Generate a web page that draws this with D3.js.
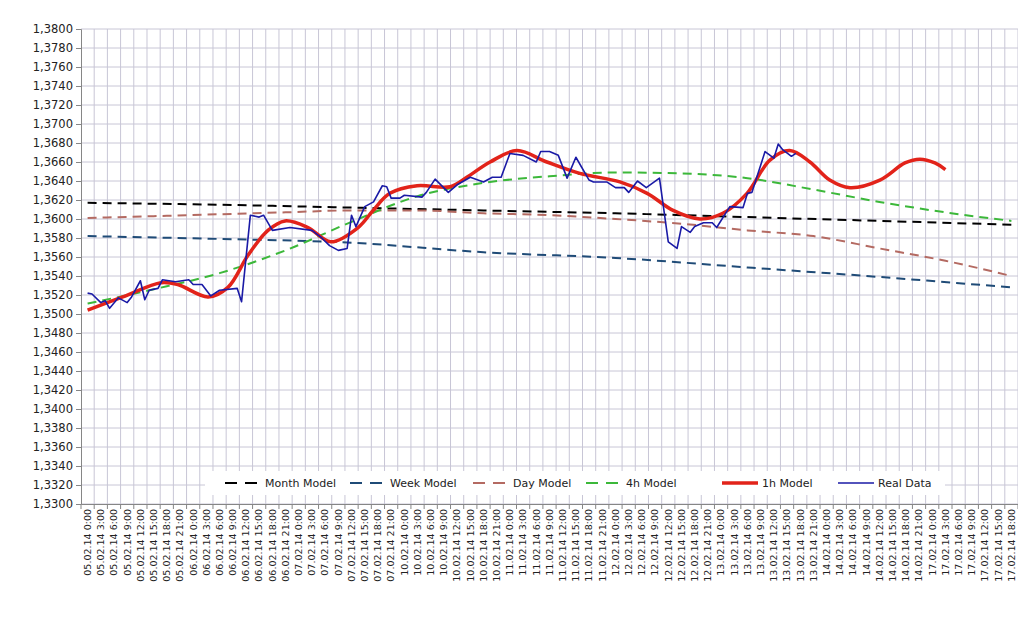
<!DOCTYPE html>
<html><head><meta charset="utf-8">
<script src="https://cdn.jsdelivr.net/npm/d3@7"></script>
<style>body{margin:0;background:#fff}text{font-family:"DejaVu Sans",sans-serif}</style>
</head><body><div id="chart"></div>
<script>
// category labels (3h steps, trading days only)
const days = [["05",8],["06",8],["07",8],["10",8],["11",8],["12",8],["13",8],["14",8],["17",7]];
const labels = [];
days.forEach(([d, n]) => { for (let i = 0; i < n; i++) labels.push(`${d}.02.14 ${i * 3}:00`); });

const yTicks = d3.range(1.33, 1.38001, 0.002);

// model values at category index
const monthModel = [[0,1.3617],[10,1.3615],[20,1.3612],[30,1.3609],[40,1.3606],[50,1.3602],[60,1.3598],[70,1.3594]];
const weekModel = [[0,1.3582],[10,1.3579],[20,1.3575],[30,1.3565],[40,1.3559],[50,1.3549],[60,1.3539],[70,1.3528]];
const dayModel = [[0,1.3601],[5,1.3603],[10,1.3605],[15,1.3607],[20,1.3609],[25,1.3609],[30,1.3606],[35,1.3604],[40,1.3600],[45,1.3595],[50,1.3588],[55,1.3582],[60,1.3569],[65,1.3556],[70,1.3540]];
const h4Model = [[0,1.3511],[5,1.3526],[10,1.3543],[15,1.3567],[20,1.3597],[25,1.3624],[30,1.3638],[35,1.3645],[40,1.3649],[45,1.3648],[50,1.3643],[55,1.3631],[60,1.3618],[65,1.3607],[70,1.3598]];
// hour offset, value
const h1Model = [[0,1.3504],[8,1.3518],[16.7,1.3533],[20.5,1.3531],[27.4,1.3518],[31.9,1.3528],[36.5,1.3562],[41,1.3588],[44.9,1.3598],[50.1,1.3591],[55.3,1.3576],[61.5,1.3591],[64.9,1.3609],[68.7,1.3627],[74.9,1.3635],[82.4,1.3634],[86.2,1.3644],[91.5,1.3660],[97.6,1.3672],[104.4,1.3660],[111.9,1.3648],[121,1.3639],[127.2,1.3627],[133.1,1.3609],[139.2,1.3600],[144.4,1.3606],[149.9,1.3627],[155.1,1.3662],[159.6,1.3672],[164.2,1.3660],[168.7,1.3641],[173.3,1.3633],[180.1,1.3641],[185.8,1.3659],[189.2,1.3663],[192.6,1.3659],[195,1.3652]];
const realData = [[0,1.3522],[1,1.3521],[3,1.3512],[4,1.3514],[5,1.3506],[7,1.3517],[9,1.3512],[10,1.3518],[12,1.3535],[13,1.3515],[14,1.3525],[16,1.3527],[17,1.3536],[20,1.3534],[23,1.3536],[24,1.3531],[26,1.3531],[28,1.3519],[30,1.3525],[34,1.3527],[35,1.3513],[37,1.3604],[39,1.3602],[40,1.3604],[42,1.3588],[46,1.3591],[51,1.3588],[53,1.3581],[55,1.3572],[57,1.3567],[59,1.3569],[60,1.3604],[61,1.3592],[63,1.3613],[65,1.3618],[67,1.3635],[68,1.3634],[69,1.3622],[71,1.3622],[72,1.3625],[76,1.3623],[77,1.3628],[79,1.3642],[82,1.3628],[84,1.3636],[87,1.3644],[90,1.3639],[92,1.3644],[94,1.3644],[96,1.3669],[99,1.3667],[102,1.3660],[103,1.3671],[105,1.3671],[107,1.3667],[109,1.3643],[111,1.3665],[114,1.3641],[115,1.3639],[118,1.3639],[120,1.3633],[122,1.3633],[123,1.3628],[125,1.3640],[127,1.3633],[130,1.3643],[132,1.3576],[134,1.3569],[135,1.3592],[137,1.3586],[138,1.3592],[140,1.3596],[142,1.3596],[143,1.3591],[146,1.3613],[149,1.3612],[150,1.3627],[151,1.3628],[154,1.3671],[156,1.3664],[157,1.3679],[158,1.3673],[160,1.3666],[161,1.3669]];

const W = 1018, H = 617;
const mLeft = 81, mRight = 1018, mTop = 29, mBottom = 504;

const svg = d3.select("#chart").append("svg").attr("width", W).attr("height", H);

const xBand = d3.scaleBand().domain(labels).range([mLeft, mRight]).padding(0);
const bw = xBand.bandwidth();
// hour offset -> pixel (hour 0 at centre of first category)
const xh = d3.scaleLinear().domain([0, 3]).range([mLeft + bw / 2, mLeft + bw * 1.5]);
const y = d3.scaleLinear().domain([1.33, 1.38]).range([mBottom, mTop]);

// gridlines
svg.append("g").selectAll("line").data(yTicks).join("line")
  .attr("x1", mLeft).attr("x2", mRight).attr("y1", d => y(d)).attr("y2", d => y(d))
  .attr("stroke", "#c8c6d6").attr("stroke-width", 1);
svg.append("g").selectAll("line").data(d3.range(1, labels.length + 1)).join("line")
  .attr("x1", i => mLeft + i * bw).attr("x2", i => mLeft + i * bw)
  .attr("y1", mTop).attr("y2", mBottom)
  .attr("stroke", "#c8c6d6").attr("stroke-width", 1);

// axes
const yAxis = d3.axisLeft(y).tickValues(yTicks).tickSize(5).tickFormat(d => d3.format(".4f")(d).replace(".", ","));
svg.append("g").attr("transform", `translate(${mLeft},0)`).call(yAxis)
  .call(g => g.select(".domain").attr("stroke", "#868686"))
  .call(g => g.selectAll(".tick line").attr("stroke", "#868686"))
  .call(g => g.selectAll("text").attr("font-size", 11.5).attr("fill", "#222").attr("x", -8));

const xAxis = d3.axisBottom(xBand).tickSize(0);
svg.append("g").attr("transform", `translate(0,${mBottom})`).call(xAxis)
  .call(g => g.select(".domain").attr("stroke", "#868686"))
  .call(g => g.selectAll("text").attr("font-size", 9.5).attr("fill", "#222")
    .attr("transform", "rotate(-90)").attr("text-anchor", "end")
    .attr("x", -5).attr("y", 0).attr("dy", "0.35em"));
svg.append("g").selectAll("line").data(d3.range(labels.length + 1)).join("line")
  .attr("x1", i => mLeft + i * bw).attr("x2", i => mLeft + i * bw)
  .attr("y1", mBottom).attr("y2", mBottom + 5).attr("stroke", "#868686");

// lines
const catLine = d3.line().x(d => xh(d[0] * 3)).y(d => y(d[1])).curve(d3.curveMonotoneX);
const smoothLine = d3.line().x(d => xh(d[0])).y(d => y(d[1])).curve(d3.curveCatmullRom);
const rawLine = d3.line().x(d => xh(d[0])).y(d => y(d[1]));

const series = [
  { name: "Month Model", data: monthModel, line: catLine, color: "#000", width: 2, dash: "9,6" },
  { name: "Week Model", data: weekModel, line: catLine, color: "#1f4b77", width: 2, dash: "9,6" },
  { name: "Day Model", data: dayModel, line: catLine, color: "#b46a62", width: 2, dash: "9,6" },
  { name: "4h Model", data: h4Model, line: catLine, color: "#3cb83a", width: 2, dash: "9,6" },
  { name: "1h Model", data: h1Model, line: smoothLine, color: "#e2231a", width: 3.5, dash: null },
  { name: "Real Data", data: realData, line: rawLine, color: "#1a1aa6", width: 1.6, dash: null }
];

series.forEach(s => {
  svg.append("path").datum(s.data)
    .attr("d", s.line).attr("fill", "none")
    .attr("stroke", s.color).attr("stroke-width", s.width)
    .attr("stroke-dasharray", s.dash).attr("stroke-linejoin", "round");
});

// legend
const lg = svg.append("g");
lg.append("rect").attr("x", 205).attr("y", 471).attr("width", 740).attr("height", 24).attr("fill", "#fff");
const legendX = [225, 350, 473, 586, 722, 838];
series.forEach((s, i) => {
  const g = lg.append("g").attr("transform", `translate(${legendX[i]},483)`);
  g.append("line").attr("x1", 0).attr("x2", 36).attr("stroke", s.color)
    .attr("stroke-width", s.width).attr("stroke-dasharray", s.dash ? "12,8" : null);
  g.append("text").attr("x", 40)
    .attr("dy", "0.35em").attr("font-size", 11).attr("fill", "#222").text(s.name);
});
</script>
</body></html>
